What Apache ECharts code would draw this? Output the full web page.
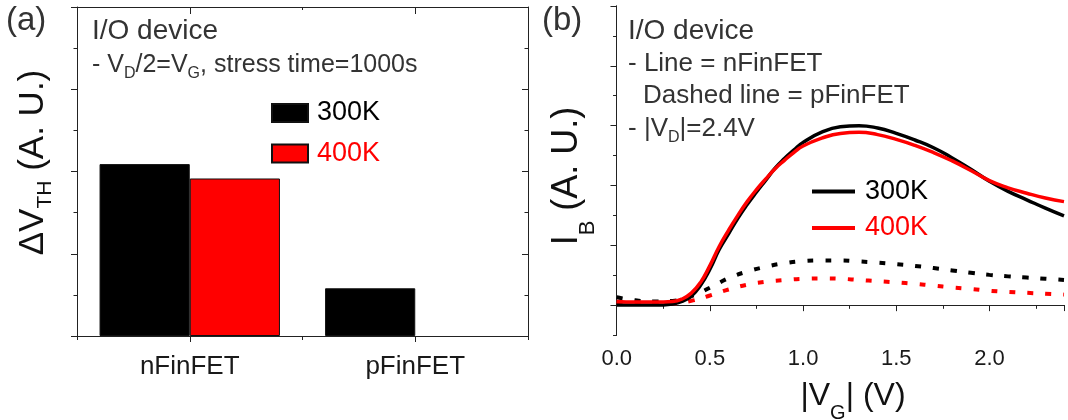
<!DOCTYPE html>
<html><head><meta charset="utf-8">
<script src="https://cdn.jsdelivr.net/npm/echarts@6/dist/echarts.min.js"></script>
<style>html,body{margin:0;padding:0;background:#fff}#c{width:1068px;height:420px}</style>
</head><body><div id="c"></div>
<script>
// ---- data ----
const devices = ['nFinFET', 'pFinFET'];
const dvth300 = [2.09, 0.58];
const dvth400 = [1.915, null];

const vgSolid = [0,0.1,0.2,0.3,0.35,0.4,0.45,0.5,0.55,0.6,0.65,0.7,0.75,0.8,0.85,0.9,0.95,1.0,1.1,1.2,1.3,1.4,1.5,1.6,1.7,1.8,1.9,2.0,2.1,2.2,2.3,2.4];
const ib300n = [0,0,0,0.02,0.06,0.15,0.33,0.6,0.93,1.19,1.45,1.68,1.89,2.09,2.29,2.45,2.59,2.72,2.89,2.98,3.0,2.96,2.87,2.76,2.63,2.46,2.27,2.07,1.9,1.76,1.62,1.49];
const ib400n = [0.06,0.05,0.05,0.06,0.1,0.2,0.38,0.66,0.98,1.25,1.5,1.73,1.93,2.11,2.28,2.42,2.55,2.66,2.79,2.87,2.89,2.85,2.77,2.67,2.55,2.41,2.25,2.08,1.96,1.87,1.79,1.73];

const vgDash = [0,0.1,0.2,0.3,0.4,0.5,0.6,0.7,0.8,0.9,1.0,1.1,1.2,1.3,1.4,1.5,1.6,1.7,1.8,1.9,2.0,2.1,2.2,2.3,2.4];
const ib300p = [0.13,0.08,0.06,0.07,0.15,0.29,0.45,0.56,0.64,0.7,0.735,0.745,0.745,0.73,0.71,0.685,0.655,0.62,0.58,0.54,0.505,0.48,0.46,0.44,0.42];
const ib400p = [0.05,0.04,0.03,0.03,0.07,0.16,0.26,0.34,0.39,0.42,0.44,0.445,0.44,0.42,0.40,0.38,0.355,0.325,0.295,0.27,0.24,0.22,0.205,0.19,0.175];

const tempLabels = ['300K', '400K'];

// ---- styles ----
const FF = '"Liberation Sans", Arial, sans-serif';
const AX = '#222';
const RED = '#ff0000';
const lineAx = {show: true, lineStyle: {color: AX, width: 1}};
const noLine = {show: false};
const noLab = {show: false};
const noSplit = {show: false};

function pairs(xs, ys) { return xs.map((x, i) => [x, ys[i]]); }

const chart = echarts.init(document.getElementById('c'), null, {renderer: 'canvas'});

const option = {
  animation: false,
  backgroundColor: '#fff',
  grid: [
    {left: 77, top: 7, width: 451, height: 329},
    {left: 616.7, top: 6, width: 447.3, height: 329}
  ],
  xAxis: [
    // left panel
    {gridIndex: 0, type: 'category', data: devices, position: 'bottom', axisLine: lineAx,
     axisTick: {show: true, alignWithLabel: true, length: 6, lineStyle: {color: AX}},
     axisLabel: {fontSize: 26, fontFamily: FF, color: '#1a1a1a', margin: 18}, splitLine: noSplit},
    {gridIndex: 0, type: 'category', data: devices, position: 'bottom', axisLine: noLine,
     axisTick: {show: true, length: 4, lineStyle: {color: AX}}, axisLabel: noLab, splitLine: noSplit},
    {gridIndex: 0, type: 'category', data: devices, position: 'top', axisLine: lineAx,
     axisTick: {show: true, alignWithLabel: true, inside: true, length: 7, lineStyle: {color: AX}}, axisLabel: noLab, splitLine: noSplit},
    {gridIndex: 0, type: 'category', data: devices, position: 'top', axisLine: noLine,
     axisTick: {show: true, inside: true, length: 3, lineStyle: {color: AX}}, axisLabel: noLab, splitLine: noSplit},
    // right panel
    {gridIndex: 1, type: 'value', min: 0, max: 2.4, interval: 0.5, position: 'bottom', axisLine: lineAx,
     axisTick: {show: true, length: 6, lineStyle: {color: AX}},
     axisLabel: {fontSize: 22, fontFamily: FF, color: '#1a1a1a', margin: 13, showMaxLabel: false,
                 formatter: v => Number(v).toFixed(1)}, splitLine: noSplit},
    {gridIndex: 1, type: 'value', min: 0, max: 2.4, interval: 0.25, position: 'bottom', axisLine: noLine,
     axisTick: {show: true, length: 3.5, lineStyle: {color: AX}}, axisLabel: noLab, splitLine: noSplit},
    {gridIndex: 1, type: 'value', min: 0, max: 2.4, interval: 0.5, position: 'top', axisLine: lineAx,
     axisTick: {show: true, inside: true, length: 6, lineStyle: {color: AX}}, axisLabel: noLab, splitLine: noSplit},
    {gridIndex: 1, type: 'value', min: 0, max: 2.4, interval: 0.25, position: 'top', axisLine: noLine,
     axisTick: {show: true, inside: true, length: 3.5, lineStyle: {color: AX}}, axisLabel: noLab, splitLine: noSplit}
  ],
  yAxis: [
    {gridIndex: 0, type: 'value', min: 0, max: 4, interval: 1, position: 'left', axisLine: lineAx,
     axisTick: {show: true, length: 6, lineStyle: {color: AX}},
     minorTick: {show: true, splitNumber: 2, length: 3.5, lineStyle: {color: AX}},
     axisLabel: noLab, splitLine: noSplit, minorSplitLine: noSplit},
    {gridIndex: 0, type: 'value', min: 0, max: 4, interval: 1, position: 'right', axisLine: lineAx,
     axisTick: {show: true, inside: true, length: 6, lineStyle: {color: AX}},
     minorTick: {show: true, splitNumber: 2, length: 3.5, lineStyle: {color: AX}},
     axisLabel: noLab, splitLine: noSplit, minorSplitLine: noSplit},
    {gridIndex: 1, type: 'value', min: -0.5, max: 5, position: 'left', axisLine: lineAx,
     axisTick: {show: true, length: 6, customValues: [0, 1, 2, 3, 4, 5], lineStyle: {color: AX}},
     axisLabel: noLab, splitLine: noSplit},
    {gridIndex: 1, type: 'value', min: -0.5, max: 5, interval: 0.5, position: 'left', axisLine: noLine,
     axisTick: {show: true, length: 3.5, lineStyle: {color: AX}}, axisLabel: noLab, splitLine: noSplit},
    {gridIndex: 1, type: 'value', min: -0.5, max: 5, position: 'right', axisLine: lineAx,
     axisTick: {show: true, inside: true, length: 6, customValues: [0, 1, 2, 3, 4, 5], lineStyle: {color: AX}},
     axisLabel: noLab, splitLine: noSplit},
    {gridIndex: 1, type: 'value', min: -0.5, max: 5, interval: 0.5, position: 'right', axisLine: noLine,
     axisTick: {show: true, inside: true, length: 3.5, lineStyle: {color: AX}}, axisLabel: noLab, splitLine: noSplit}
  ],
  legend: [
    {orient: 'vertical', left: 266, top: 93, itemWidth: 36, itemHeight: 18, itemGap: 10.5, icon: 'rect',
     selectedMode: false,
     data: [{name: tempLabels[0], textStyle: {color: '#000'}}, {name: tempLabels[1], textStyle: {color: RED}}],
     textStyle: {fontSize: 27, fontFamily: FF, lineHeight: 30, padding: [0, 0, 0, 4]}},
    {orient: 'vertical', left: 807, top: 171.5, itemWidth: 43, itemHeight: 4, itemGap: 6.5, icon: 'rect',
     selectedMode: false,
     data: [{name: tempLabels[0] + '-n', textStyle: {color: '#000'}}, {name: tempLabels[1] + '-n', textStyle: {color: RED}}],
     formatter: n => n.replace('-n', ''),
     textStyle: {fontSize: 27, fontFamily: FF, lineHeight: 30, padding: [0, 0, 0, 5]}}
  ],
  series: [
    {name: tempLabels[0], type: 'bar', xAxisIndex: 0, yAxisIndex: 0, data: dvth300, barWidth: '40%', barGap: '0%',
     itemStyle: {color: '#000', borderColor: '#111', borderWidth: 1}},
    {name: tempLabels[1], type: 'bar', xAxisIndex: 0, yAxisIndex: 0, data: dvth400, barWidth: '40%', barGap: '0%',
     itemStyle: {color: RED, borderColor: '#111', borderWidth: 1}},
    {name: tempLabels[0] + '-p', type: 'line', xAxisIndex: 4, yAxisIndex: 2, data: pairs(vgDash, ib300p),
     smooth: true, showSymbol: false, color: '#000',
     lineStyle: {color: '#000', width: 4, type: [6, 12], cap: 'butt'}},
    {name: tempLabels[1] + '-p', type: 'line', xAxisIndex: 4, yAxisIndex: 2, data: pairs(vgDash, ib400p),
     smooth: true, showSymbol: false, color: RED,
     lineStyle: {color: RED, width: 4, type: [6, 12], cap: 'butt'}},
    {name: tempLabels[0] + '-n', type: 'line', xAxisIndex: 4, yAxisIndex: 2, data: pairs(vgSolid, ib300n),
     smooth: true, showSymbol: false, color: '#000', itemStyle: {color: '#000'},
     lineStyle: {color: '#000', width: 3.5}},
    {name: tempLabels[1] + '-n', type: 'line', xAxisIndex: 4, yAxisIndex: 2, data: pairs(vgSolid, ib400n),
     smooth: true, showSymbol: false, color: RED, itemStyle: {color: RED},
     lineStyle: {color: RED, width: 3.5}}
  ],
  graphic: []
};

function txt(x, y, text, size, opts) {
  opts = opts || {};
  const st = {
    text: text, x: 0, y: 0, fill: opts.fill || '#333',
    fontSize: size, fontFamily: FF,
    textAlign: opts.align || 'left', align: opts.align || 'left',
    textVerticalAlign: 'middle', verticalAlign: 'middle'
  };
  if (opts.rich) st.rich = opts.rich;
  return {type: 'text', x: x, y: y, rotation: opts.rotation || 0, silent: true, style: st};
}
function subRich(main, sub, L, fill) {
  return {
    m: {fontSize: main, lineHeight: L, fontFamily: FF, fill: fill, color: fill, verticalAlign: 'middle'},
    s: {fontSize: sub, lineHeight: sub, fontFamily: FF, fill: fill, color: fill, verticalAlign: 'bottom'}
  };
}

option.graphic = [
  txt(6, 21, '(a)', 33),
  txt(92, 31, 'I/O device', 28),
  txt(92, 65, '{m|- V}{s|D}{m|/2=V}{s|G}{m|, stress time=1000s}', 25, {rich: subRich(25, 16, 34, '#333')}),
  txt(542, 21, '(b)', 33),
  txt(628, 31.5, 'I/O device', 28),
  txt(628, 64.3, '- Line = nFinFET', 26),
  txt(643, 95.5, 'Dashed line = pFinFET', 26),
  txt(628, 128.5, '{m|- |V}{s|D}{m||=2.4V}', 26, {rich: subRich(26, 16, 34, '#333')}),
  // axis titles
  txt(33, 162.5, '{m|ΔV}{s|TH}{m| (A. U.)}', 35, {align: 'center', rotation: Math.PI / 2, fill: '#111', rich: subRich(35, 21, 46, '#111')}),
  txt(567, 176, '{m|I}{s|B}{m| (A. U.)}', 36, {align: 'center', rotation: Math.PI / 2, fill: '#111', rich: subRich(36, 22, 64, '#111')}),
  txt(853, 395.8, '{m||V}{s|G}{m|| (V)}', 32, {align: 'center', fill: '#111', rich: subRich(32, 20, 55, '#111')})
];

chart.setOption(option);
</script>
</body></html>
